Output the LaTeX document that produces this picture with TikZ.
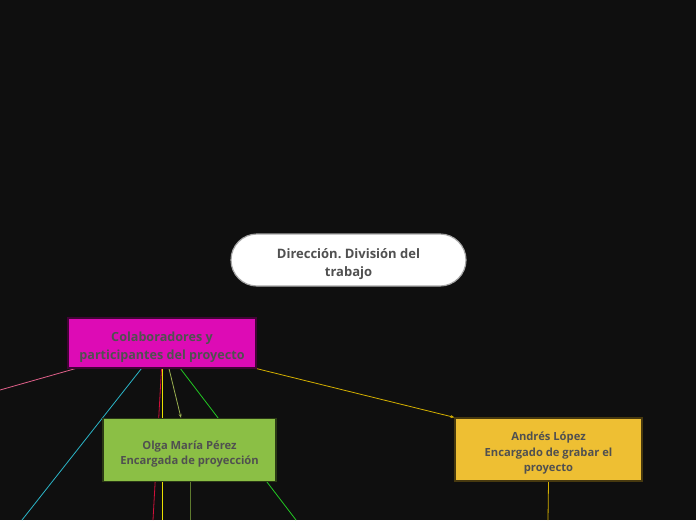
\documentclass[tikz,border=0pt]{standalone}
\usepackage{fontspec}
\setmainfont{Open Sans}
\frenchspacing
\usetikzlibrary{arrows.meta,shapes.misc}
\definecolor{bg}{HTML}{0F0F0F}
\definecolor{txt}{HTML}{505050}
\definecolor{magbox}{HTML}{DD0BB5}
\definecolor{greenbox}{HTML}{8BBF45}
\definecolor{yelbox}{HTML}{EEBF33}
\definecolor{pinkln}{HTML}{E0608A}
\definecolor{cyanln}{HTML}{2BB5C8}
\definecolor{greenln}{HTML}{22C822}
\definecolor{yelln}{HTML}{D4B000}
\definecolor{redln}{HTML}{D0103A}
\definecolor{brightyel}{HTML}{E8E000}
\definecolor{oliveln}{HTML}{5E7A2E}
\definecolor{arrowln}{HTML}{9AB050}
\pgfdeclarelayer{bgfill}
\pgfdeclarelayer{edges}
\pgfsetlayers{bgfill,edges,main}
\tikzset{
  lbl/.style={text=txt, align=center, inner sep=0pt},
  topic/.style={lbl, draw=#1!30!black, fill=#1, line width=1.2pt},
  bigfont/.style={font=\fontsize{13}{18}\selectfont\bfseries},
  colfont/.style={font=\fontsize{12.6}{18}\selectfont\bfseries},
  smallfont/.style={font=\fontsize{11.2}{15.5}\selectfont\bfseries},
  conn/.style={line width=0.8pt},
  tip/.style={-{Stealth[length=4pt,width=3pt]}}
}
\begin{document}
\begin{tikzpicture}[x=1pt,y=-1pt]
\begin{pgfonlayer}{bgfill}
\fill[bg] (0,0) rectangle (696,520);
\end{pgfonlayer}
\useasboundingbox (0,0) rectangle (696,520);
\clip (0,0) rectangle (696,520);
% free ends
\coordinate (pinkend) at (0,390);
\coordinate (cyanend) at (22,520);
\coordinate (redend) at (153,520);
\coordinate (yelend) at (162.5,520);
\coordinate (oliveend) at (190,520);
\coordinate (greenend) at (296,520);
\coordinate (andresend) at (548,520);
% nodes
\node[lbl, bigfont, draw=gray!70, line width=1.2pt, fill=white, rounded rectangle, minimum width=235pt, minimum height=52pt] (dir) at (348.5,260) {\rule{0pt}{18pt}Dirección. División del\\trabajo};
\node[topic=magbox, colfont, minimum width=188pt, minimum height=50pt] (col) at (162,343) {\rule{0pt}{18pt}Colaboradores y\\participantes del proyecto};
\node[topic=greenbox, smallfont, minimum width=173pt, minimum height=63pt] (olga) at (189.5,450) {\rule{0pt}{17pt}Olga María Pérez\\Encargada de proyección};
\node[topic=yelbox, smallfont, minimum width=187pt, minimum height=63pt] (andres) at (548.5,449.5) {\rule{0pt}{16pt}Andrés López\\Encargado de grabar el\\proyecto};
% connectors
\begin{pgfonlayer}{edges}
\draw[conn, pinkln] ([xshift=8pt]col.south west) -- (pinkend);
\draw[conn, cyanln] ([xshift=74pt]col.south west) -- (cyanend);
\draw[conn, greenln] ([xshift=113pt]col.south west) -- (greenend);
\draw[conn, yelln, tip] (col.south east) -- (andres.north west);
\draw[conn, arrowln, tip] ([xshift=7pt]col.south) -- ([xshift=-8.5pt]olga.north);
\draw[conn, oliveln] ([xshift=0.5pt]olga.south) -- (oliveend);
\draw[conn, yelln] (andres.south) -- (andresend);
\draw[conn, redln] ([xshift=-0.5pt]col.south) -- (redend);
\draw[conn, brightyel] ([xshift=0.5pt]col.south) -- (yelend);
\end{pgfonlayer}
\end{tikzpicture}
\end{document}
